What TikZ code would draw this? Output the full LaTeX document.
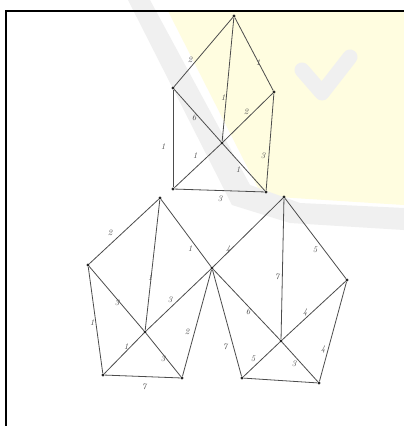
\documentclass[tikz,border=0pt]{standalone}
\usetikzlibrary{calc}
\begin{document}
\begin{tikzpicture}[x=1pt,y=-1pt,
  vtx/.style={circle,fill=black!85,inner sep=0pt,minimum size=3.2pt},
  edge/.style={draw=black!70,line width=0.8pt},
  lbl/.style={font=\fontsize{8.5}{9}\selectfont\itshape,text=black!70,inner sep=0pt}]
\useasboundingbox (0,0) rectangle (404,426);
\fill[white] (0,0) rectangle (404,426);
% watermark (faint)
\fill[yellow!12] (168,11) -- (404,11) -- (404,205) -- (262,196) -- cycle;
\fill[black!6] (128,0) -- (150,0) -- (250,185) -- (300,203) -- (404,208) -- (404,230) -- (290,223) -- (232,205) -- cycle;
\draw[black!6,line width=15pt,line cap=round,line join=round] (302,70) -- (322,93) -- (350,57);
% frame
\draw[black,line width=2pt] (6,426) -- (6,11) -- (404,11);
% top house
\node[vtx] (T) at (234,16) {};
\node[vtx] (TL) at (173,88) {};
\node[vtx] (TR) at (274,92) {};
\node[vtx] (TC) at (222,143) {};
\node[vtx] (TBL) at (173,189) {};
\node[vtx] (TBR) at (266,192) {};
\draw[edge] (T) -- (TL); \draw[edge] (T) -- (TC); \draw[edge] (T) -- (TR);
\draw[edge] (TL) -- (TC); \draw[edge] (TL) -- (TBL); \draw[edge] (TC) -- (TR);
\draw[edge] (TR) -- (TBR); \draw[edge] (TC) -- (TBL); \draw[edge] (TC) -- (TBR);
\draw[edge] (TBL) -- (TBR);
\node[lbl] (t1) at (190,60) {2};
\node[lbl] (t2) at (258,63) {1};
\node[lbl] (t3) at (223,98) {1};
\node[lbl] (t4) at (194,118) {6};
\node[lbl] (t5) at (246,112) {2};
\node[lbl] (t6) at (163,147) {1};
\node[lbl] (t7) at (195,156) {1};
\node[lbl] (t8) at (263,156) {3};
\node[lbl] (t9) at (238,170) {1};
\node[lbl] (t10) at (220,199) {3};
% left pentagon
\node[vtx] (LA) at (160,198) {};
\node[vtx] (LB) at (88,265) {};
\node[vtx] (LC) at (145,332) {};
\node[vtx] (LD) at (103,375) {};
\node[vtx] (LE) at (182,378) {};
\node[vtx] (M) at (212,268) {};
\draw[edge] (LA) -- (LB); \draw[edge] (LA) -- (LC); \draw[edge] (LA) -- (M);
\draw[edge] (LB) -- (LC); \draw[edge] (LB) -- (LD); \draw[edge] (LC) -- (M);
\draw[edge] (LC) -- (LD); \draw[edge] (LC) -- (LE); \draw[edge] (LD) -- (LE);
\draw[edge] (M) -- (LE);
\node[lbl] (l1) at (110,233) {2};
\node[lbl] (l2) at (190,249) {1};
\node[lbl] (l3) at (150,278) {1};
\node[lbl] (l4) at (117,303) {3};
\node[lbl] (l5) at (170,300) {3};
\node[lbl] (l6) at (92,323) {1};
\node[lbl] (l7) at (187,332) {2};
\node[lbl] (l8) at (126,347) {1};
\node[lbl] (l9) at (163,359) {3};
\node[lbl] (l10) at (144,387) {7};
% right pentagon
\node[vtx] (RA) at (284,197) {};
\node[vtx] (RR) at (347,280) {};
\node[vtx] (RC) at (281,341) {};
\node[vtx] (RD) at (242,378) {};
\node[vtx] (RE) at (319,383) {};
\draw[edge] (M) -- (RA); \draw[edge] (RA) -- (RC); \draw[edge] (RA) -- (RR);
\draw[edge] (M) -- (RC); \draw[edge] (M) -- (RD); \draw[edge] (RR) -- (RC);
\draw[edge] (RR) -- (RE); \draw[edge] (RC) -- (RD); \draw[edge] (RC) -- (RE);
\draw[edge] (RD) -- (RE);
\node[lbl] (r1) at (228,249) {4};
\node[lbl] (r2) at (315,250) {5};
\node[lbl] (r3) at (277,277) {7};
\node[lbl] (r4) at (248,312) {6};
\node[lbl] (r5) at (305,312) {4};
\node[lbl] (r6) at (225,347) {7};
\node[lbl] (r7) at (253,359) {5};
\node[lbl] (r8) at (294,364) {3};
\node[lbl] (r9) at (323,349) {4};
\end{tikzpicture}
\end{document}
